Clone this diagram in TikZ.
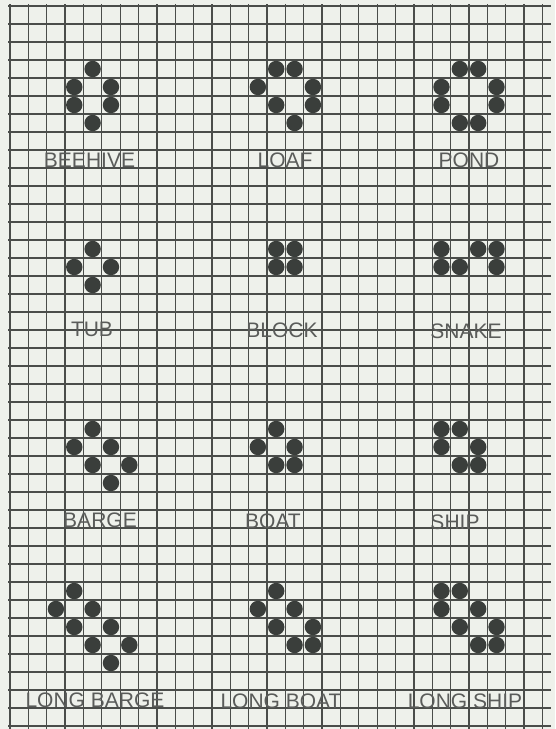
\documentclass[tikz,border=0pt]{standalone}
\usepackage{fontspec}
\setmainfont{Liberation Sans}
\definecolor{paper}{HTML}{EEF1EB}
\definecolor{gridline}{HTML}{4A4D4A}
\definecolor{dotc}{HTML}{3A3E3B}
\definecolor{labelc}{HTML}{5A5C5A}
\newcommand\lifedots[1]{%
  \foreach \c/\r in {#1}
    \fill[dotc] ({10+18.36*(\c+0.5)},{6+18*(\r+0.5)}) circle (8.2pt);}
\begin{document}
\begin{tikzpicture}[x=1pt,y=-1pt,
  gridrule/.style={draw=gridline,line width=1.3pt},
  lbl/.style={text=labelc,font=\fontsize{21}{21}\selectfont,inner sep=0pt,anchor=center}]
\fill[paper] (0,0) rectangle (555,729);
\useasboundingbox (0,0) rectangle (555,729);
% grid
\foreach \i in {0,...,29}
  \draw[gridrule] ({10+18.36*\i},4) -- ({10+18.36*\i},729);
\foreach \j in {0,...,40}
  \draw[gridrule] (8,{6+18*\j}) -- (551,{6+18*\j});
% still lifes
\lifedots{4/3,3/4,5/4,3/5,5/5,4/6}
\lifedots{14/3,15/3,13/4,16/4,14/5,16/5,15/6}
\lifedots{24/3,25/3,23/4,26/4,23/5,26/5,24/6,25/6}
\lifedots{4/13,3/14,5/14,4/15}
\lifedots{14/13,15/13,14/14,15/14}
\lifedots{23/13,25/13,26/13,23/14,24/14,26/14}
\lifedots{4/23,3/24,5/24,4/25,6/25,5/26}
\lifedots{14/23,13/24,15/24,14/25,15/25}
\lifedots{23/23,24/23,23/24,25/24,24/25,25/25}
\lifedots{3/32,2/33,4/33,3/34,5/34,4/35,6/35,5/36}
\lifedots{14/32,13/33,15/33,14/34,16/34,15/35,16/35}
\lifedots{23/32,24/32,23/33,25/33,24/34,26/34,25/35,26/35}
% labels
\node[lbl] (beehive) at (89.5,160) {BEEHIVE};
\node[lbl] (loaf) at (285,160) {LOAF};
\node[lbl] (pond) at (469,160) {POND};
\node[lbl] (tub) at (92,329) {TUB};
\node[lbl] (block) at (282,330) {BLOCK};
\node[lbl] (snake) at (466,331) {SNAKE};
\node[lbl] (barge) at (100,520) {BARGE};
\node[lbl] (boat) at (273,521) {BOAT};
\node[lbl] (ship) at (455,522) {SHIP};
\node[lbl] (longbarge) at (95,700) {LONG BARGE};
\node[lbl] (longboat) at (281,701) {LONG BOAT};
\node[lbl] (longship) at (465,701) {LONG SHIP};
\end{tikzpicture}
\end{document}
